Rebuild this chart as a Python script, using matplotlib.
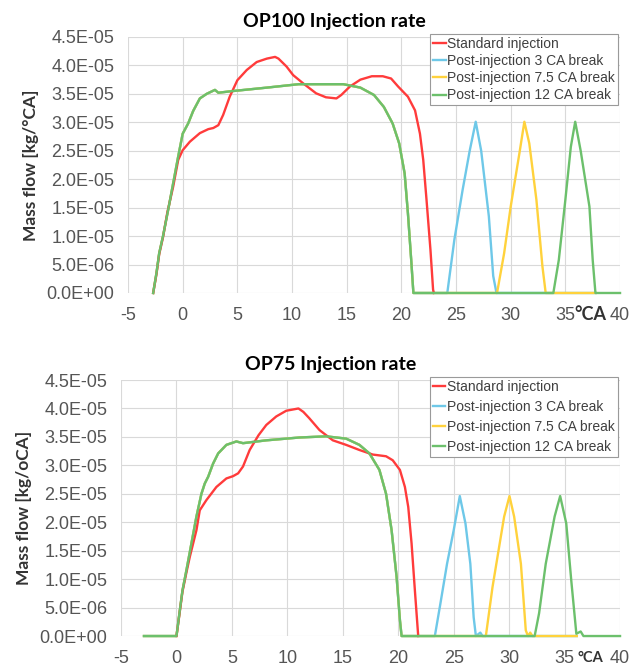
import matplotlib
matplotlib.use("Agg")
import matplotlib.pyplot as plt
import matplotlib.transforms as mtransforms

# OP100 - values (x in degrees CA, y in kg/degCA)
op100_red_x = [-2.7, -2.4, -2.15, -1.8, -1.4, -0.87, -0.41, 0.0, 0.66, 1.57, 2.34, 2.8, 3.26, 3.7, 4.3,
               5.0, 5.86, 6.77, 7.7, 8.45, 8.76, 9.5, 10.1, 11.05, 12.2, 13.1, 14.06, 14.5, 15.3,
               16.25, 17.3, 18.3, 19.06, 19.7, 20.6, 21.25, 21.7, 22.0, 22.3, 22.66, 22.9, 22.97]
op100_red_y = [0.0, 0.33e-5, 0.68e-5, 0.98e-5, 1.42e-5, 1.87e-5, 2.34e-5, 2.51e-5, 2.66e-5, 2.81e-5,
               2.88e-5, 2.9e-5, 2.95e-5, 3.13e-5, 3.45e-5, 3.74e-5, 3.92e-5, 4.06e-5, 4.12e-5, 4.15e-5,
               4.12e-5, 3.98e-5, 3.83e-5, 3.68e-5, 3.51e-5, 3.44e-5, 3.42e-5, 3.48e-5, 3.63e-5,
               3.75e-5, 3.81e-5, 3.81e-5, 3.77e-5, 3.63e-5, 3.45e-5, 3.21e-5, 2.8e-5, 2.34e-5,
               1.64e-5, 0.76e-5, 0.06e-5, 0.0]

op100_main_x = [-2.7, -2.4, -2.15, -1.8, -1.33, -0.87, -0.41, 0.0, 0.5, 0.96, 1.57, 2.19, 2.95, 3.26,
                4.6, 7.7, 10.6, 14.7, 16.25, 17.5, 18.4, 19.2, 19.8, 20.3, 20.6, 20.9, 21.1]
op100_main_y = [0.0, 0.35e-5, 0.7e-5, 1.0e-5, 1.46e-5, 1.93e-5, 2.4e-5, 2.8e-5, 2.98e-5, 3.2e-5,
                3.42e-5, 3.5e-5, 3.57e-5, 3.52e-5, 3.55e-5, 3.61e-5, 3.67e-5, 3.67e-5, 3.61e-5,
                3.48e-5, 3.27e-5, 2.98e-5, 2.63e-5, 2.1e-5, 1.4e-5, 0.58e-5, 0.0]

op100_blue_x = [24.2, 24.85, 25.6, 26.25, 26.8, 27.3, 28.0, 28.4, 28.7, 37.75]
op100_blue_y = [0.0, 0.94e-5, 1.81e-5, 2.5e-5, 3.01e-5, 2.5e-5, 1.35e-5, 0.3e-5, 0.0, 0.0]
op100_yellow_x = [28.75, 29.4, 30.0, 30.8, 31.25, 31.7, 32.35, 32.9, 33.2, 37.75]
op100_yellow_y = [0.0, 0.7e-5, 1.52e-5, 2.46e-5, 3.01e-5, 2.63e-5, 1.64e-5, 0.47e-5, 0.0, 0.0]
op100_green_x = [33.9, 34.4, 35.0, 35.5, 35.9, 36.4, 37.2, 37.5, 37.75, 40.0]
op100_green_y = [0.0, 0.58e-5, 1.64e-5, 2.57e-5, 3.01e-5, 2.5e-5, 1.52e-5, 0.58e-5, 0.0, 0.0]

# OP75
op75_red_x = [0.0, 0.3, 0.54, 0.9, 1.2, 1.8, 2.1, 2.7, 3.6, 4.5, 5.1, 5.56, 6.0, 6.6, 7.4, 8.1, 9.0,
              9.9, 11.0, 11.44, 11.97, 12.9, 14.1, 15.3, 16.5, 17.7, 18.9, 19.5, 20.15, 20.6, 20.9,
              21.2, 21.5, 21.8]
op75_red_y = [0.0, 0.43e-5, 0.78e-5, 1.12e-5, 1.39e-5, 1.86e-5, 2.21e-5, 2.39e-5, 2.62e-5, 2.77e-5,
              2.81e-5, 2.86e-5, 2.98e-5, 3.27e-5, 3.53e-5, 3.71e-5, 3.86e-5, 3.96e-5, 4.0e-5,
              3.94e-5, 3.83e-5, 3.62e-5, 3.44e-5, 3.36e-5, 3.27e-5, 3.19e-5, 3.16e-5, 3.09e-5,
              2.92e-5, 2.62e-5, 2.27e-5, 1.63e-5, 0.8e-5, 0.0]

op75_main_x = [-2.93, 0.0, 0.3, 0.54, 0.9, 1.35, 1.8, 2.25, 2.55, 2.86, 3.3, 3.76, 4.5, 5.4, 6.0,
               8.1, 11.1, 13.5, 15.3, 16.5, 17.4, 18.3, 18.9, 19.4, 19.85, 20.15, 20.3]
op75_main_y = [0.0, 0.0, 0.45e-5, 0.8e-5, 1.16e-5, 1.63e-5, 2.1e-5, 2.5e-5, 2.68e-5, 2.8e-5,
               3.03e-5, 3.21e-5, 3.36e-5, 3.42e-5, 3.39e-5, 3.44e-5, 3.49e-5, 3.51e-5, 3.47e-5,
               3.36e-5, 3.21e-5, 2.92e-5, 2.5e-5, 1.86e-5, 1.04e-5, 0.28e-5, 0.0]

op75_blue_x = [23.3, 23.8, 24.4, 25.0, 25.55, 26.06, 26.5, 26.8, 27.0, 27.4, 27.6, 36.1]
op75_blue_y = [0.0, 0.57e-5, 1.27e-5, 1.86e-5, 2.46e-5, 1.98e-5, 1.27e-5, 0.33e-5, 0.0, 0.06e-5, 0.0, 0.0]
op75_yellow_x = [27.9, 28.5, 29.1, 29.55, 30.03, 30.45, 31.06, 31.5, 31.7, 31.9, 32.1, 36.1]
op75_yellow_y = [0.0, 0.86e-5, 1.57e-5, 2.1e-5, 2.46e-5, 2.1e-5, 1.27e-5, 0.1e-5, 0.0, 0.06e-5, 0.0, 0.0]
op75_green_x = [32.3, 32.7, 33.3, 34.1, 34.6, 35.15, 35.6, 36.06, 36.45, 36.7, 40.0]
op75_green_y = [0.0, 0.4e-5, 1.27e-5, 2.1e-5, 2.46e-5, 1.98e-5, 0.98e-5, 0.04e-5, 0.08e-5, 0.0, 0.0]

labels = ["Standard injection", "Post-injection 3 CA break",
          "Post-injection 7.5 CA break", "Post-injection 12 CA break"]
colors = ["#ff3b3b", "#6ec8e8", "#ffd23c", "#6cc06c"]
yticks = [0, 0.5e-5, 1.0e-5, 1.5e-5, 2.0e-5, 2.5e-5, 3.0e-5, 3.5e-5, 4.0e-5, 4.5e-5]
ytick_labels = ["0.0E+00", "5.0E-06", "1.0E-05", "1.5E-05", "2.0E-05", "2.5E-05",
                "3.0E-05", "3.5E-05", "4.0E-05", "4.5E-05"]
xticks = [-5, 0, 5, 10, 15, 20, 25, 30, 35, 40]

plt.rcParams["font.family"] = ["Liberation Sans", "DejaVu Sans"]

fig = plt.figure(figsize=(6.36, 6.70), dpi=100)
ax1 = fig.add_axes([0.2013, 0.5627, 0.7736, 0.3821])
ax2 = fig.add_axes([0.1903, 0.0507, 0.7846, 0.3821])


def draw(ax, red, main, blue, yellow, green, title, ylabel, ca_size, lspace):
    rx, ry = red
    mx, my = main
    # post-injection series share the shortened main injection
    series = [
        (rx, ry),
        (mx + blue[0], my + blue[1]),
        (mx + yellow[0], my + yellow[1]),
        (mx + green[0], my + green[1]),
    ]
    zs = [2.6, 2.2, 2.4, 2.8]
    for (sx, sy), c, lab, z in zip(series, colors, labels, zs):
        ax.plot(sx, sy, color=c, lw=1.7, label=lab, zorder=z, clip_on=False)
    ax.set_xlim(-5, 40)
    ax.set_ylim(0, 4.5e-5)
    ax.set_xticks(xticks)
    ax.set_xticklabels([str(t) for t in xticks])
    ax.set_yticks(yticks)
    ax.set_yticklabels(ytick_labels)
    ax.grid(True, color="#d9d9d9", lw=0.8)
    ax.set_axisbelow(True)
    for s in ax.spines.values():
        s.set_visible(False)
    ax.tick_params(length=0, labelsize=13, colors="#555555", pad=10)
    ax.set_title(title, fontsize=14, fontweight="bold", family="Lato", pad=7, x=0.42)
    ax.set_ylabel(ylabel, fontsize=12.5, fontweight="bold", family="Lato", color="#333333",
                  labelpad=5)
    trans = mtransforms.blended_transform_factory(ax.transData, ax.transAxes)
    ax.text(37.3, -0.085, "°CA", transform=trans, ha="center", va="center",
            fontsize=ca_size, fontweight="bold", color="#333333", family="Lato")
    leg = ax.legend(loc="upper right", bbox_to_anchor=(0.995, 1.01), fontsize=10,
                    handlelength=0.9, handletextpad=0.1, labelspacing=lspace,
                    borderpad=0.2, borderaxespad=0.0, fancybox=False, framealpha=1)
    leg.get_frame().set_edgecolor("#9a9a9a")
    leg.get_frame().set_linewidth(0.8)
    for t in leg.get_texts():
        t.set_color("#404040")


draw(ax1, (op100_red_x, op100_red_y), (op100_main_x, op100_main_y),
     (op100_blue_x, op100_blue_y), (op100_yellow_x, op100_yellow_y),
     (op100_green_x, op100_green_y), "OP100 Injection rate", "Mass flow [kg/°CA]", 13, 0.22)
draw(ax2, (op75_red_x, op75_red_y), (op75_main_x, op75_main_y),
     (op75_blue_x, op75_blue_y), (op75_yellow_x, op75_yellow_y),
     (op75_green_x, op75_green_y), "OP75 Injection rate", "Mass flow [kg/oCA]", 10.5, 0.42)

fig.savefig("out.png", dpi=100)
